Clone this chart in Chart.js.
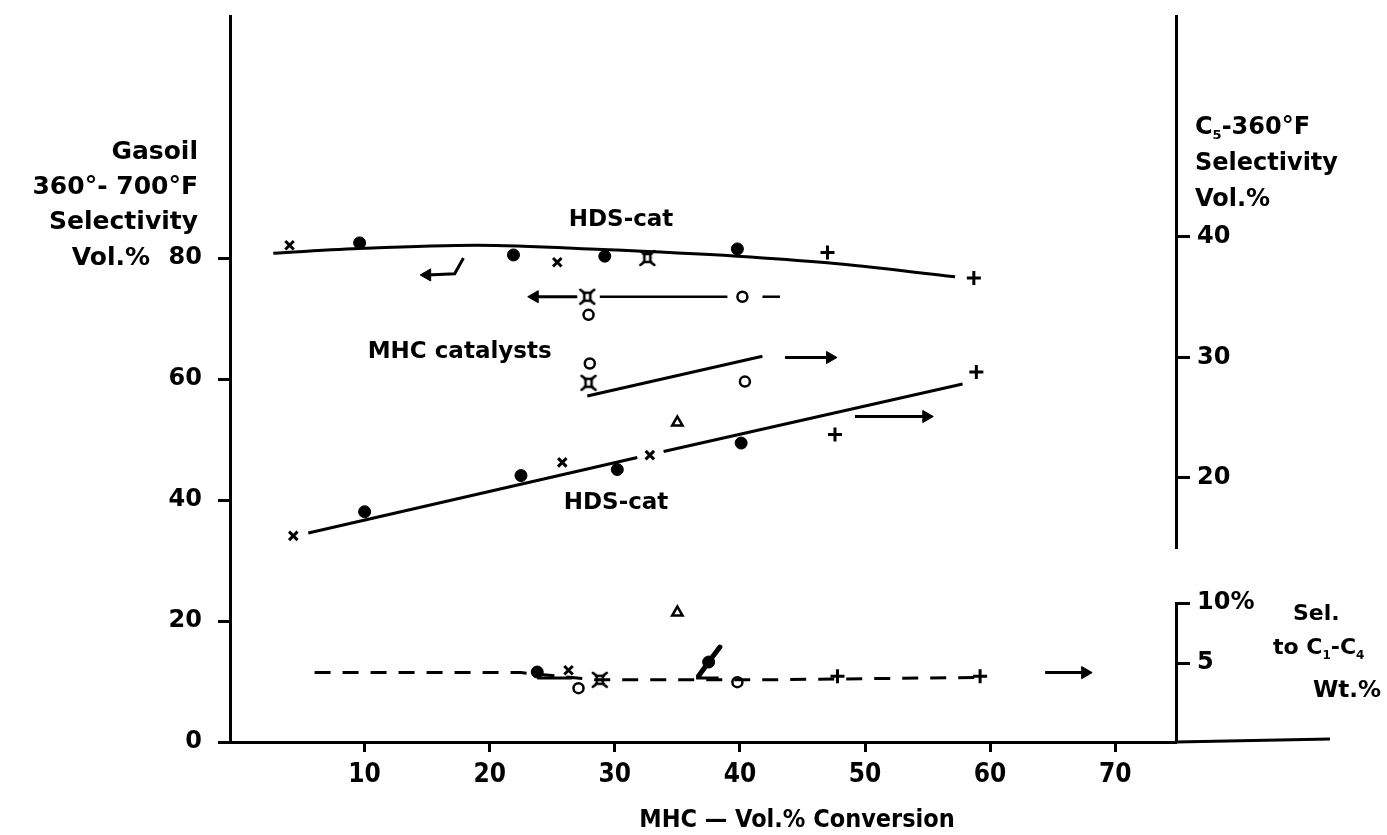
<!DOCTYPE html>
<html><head><meta charset="utf-8">
<script src="https://cdn.jsdelivr.net/npm/chart.js@4.4.1/dist/chart.umd.min.js"></script>
<style>html,body{margin:0;padding:0;background:#fff}#wrap{width:1387px;height:835px}</style>
</head><body><div id="wrap"><canvas id="c" width="1387" height="835"></canvas></div>
<script>
// ---------- tick labels ----------
const xTicks = [10, 20, 30, 40, 50, 60, 70];
const gasoilTicks = [0, 20, 40, 60, 80];
const c5Ticks = [20, 30, 40];
const c1c4Ticks = [5, 10];

// ---------- Gasoil 360-700F selectivity (left axis) ----------
const gasoilHdsCurve = [[2.7, 80.8], [10, 81.6], [19, 82.1], [29, 81.4], [39.8, 80.3], [47, 79.2], [57.2, 76.9]];
const gasoilCross = [[4.0, 82.1], [25.4, 79.3]];
const gasoilDot = [[9.6, 82.5], [21.9, 80.5], [29.2, 80.3], [39.8, 81.5]];
const gasoilStar = [[32.6, 80.0]];
const gasoilPlus = [[47.0, 80.9], [58.7, 76.7]];
const gasoilHookArrow = [[17.9, 80.0], [17.2, 77.4], [15.0, 77.2]];
const gasoilMhcStar = [[27.8, 73.6]];
const gasoilMhcOpen = [[27.9, 70.6], [40.2, 73.6]];
const gasoilMhcLine = [[28.8, 73.6], [39.0, 73.6]];
const gasoilMhcDash = [[41.8, 73.6], [43.2, 73.6]];
const gasoilMhcArrow = [[27.0, 73.6], [23.6, 73.6]];

// ---------- C5-360F selectivity (upper right axis) ----------
const c5MhcOpen = [[28.0, 29.5], [40.4, 28.0]];
const c5MhcStar = [[27.9, 27.9]];
const c5MhcLine = [[27.8, 26.8], [41.8, 30.1]];
const c5MhcArrow = [[43.6, 30.0], [47.2, 30.0]];
const c5HdsLineA = [[5.5, 15.44], [31.8, 21.7]];
const c5HdsLineB = [[33.9, 22.2], [57.8, 27.8]];
const c5Cross = [[4.3, 15.2], [25.8, 21.3], [32.8, 21.9]];
const c5Dot = [[10.0, 17.2], [22.5, 20.2], [30.2, 20.7], [40.1, 22.9]];
const c5Tri = [[35.0, 24.6]];
const c5Plus = [[47.6, 23.6], [58.9, 28.8]];
const c5Arrow = [[49.2, 25.1], [54.9, 25.1]];

// ---------- Sel. to C1-C4 wt.% (lower right axis) ----------
const lightDash = [[6.0, 4.2], [22.5, 4.2], [28.5, 3.6], [38.0, 3.6], [42.0, 3.6], [59.2, 3.8]];
const lightDot = [[23.8, 4.25], [37.5, 5.08]];
const lightDotTail = [[23.8, 3.75], [26.6, 3.75]];
const lightBlob = [[38.4, 6.33], [37.5, 5.08], [36.7, 3.92]];
const lightBlobBase = [[36.5, 3.75], [38.3, 3.75]];
const lightCross = [[26.3, 4.4]];
const lightOpen = [[27.1, 2.9], [39.8, 3.4]];
const lightStar = [[28.8, 3.6]];
const lightPlus = [[47.8, 3.9], [59.2, 3.9]];
const lightTri = [[35.0, 9.2]];
const lightArrow = [[64.4, 4.2], [67.6, 4.2]];

// ---------- styling helpers ----------
const INK = '#000';
const BOLD = '"DejaVu Sans", sans-serif';
const NARROW = '"Liberation Sans Narrow", "DejaVu Sans Condensed", sans-serif';

function starSymbol() {
  const c = document.createElement('canvas');
  c.width = 20; c.height = 20;
  const g = c.getContext('2d');
  g.strokeStyle = INK; g.lineWidth = 2.6; g.lineCap = 'round';
  g.beginPath();
  g.moveTo(6, 6); g.lineTo(14, 6); g.moveTo(6, 14); g.lineTo(14, 14);
  g.moveTo(7, 6); g.lineTo(7, 14); g.moveTo(13, 6); g.lineTo(13, 14);
  g.moveTo(3, 3); g.lineTo(7, 6); g.moveTo(17, 3); g.lineTo(13, 6);
  g.moveTo(3, 17); g.lineTo(7, 14); g.moveTo(17, 17); g.lineTo(13, 14);
  g.stroke();
  return c;
}
const STAR = starSymbol();

function markers(data, axis, kind) {
  const base = { data, yAxisID: axis, showLine: false, borderColor: INK, pointBorderColor: INK };
  if (kind === 'dot') return Object.assign(base, { pointStyle: 'circle', pointRadius: 6, pointBackgroundColor: INK, pointBorderWidth: 1 });
  if (kind === 'cross') return Object.assign(base, { pointStyle: 'crossRot', pointRadius: 6, pointBorderWidth: 3 });
  if (kind === 'plus') return Object.assign(base, { pointStyle: 'cross', pointRadius: 7, pointBorderWidth: 3 });
  if (kind === 'open') return Object.assign(base, { pointStyle: 'circle', pointRadius: 5, pointBackgroundColor: '#fff', pointBorderWidth: 2.5 });
  if (kind === 'tri') return Object.assign(base, { pointStyle: 'triangle', pointRadius: 6, pointBackgroundColor: '#fff', pointBorderWidth: 2.5 });
  if (kind === 'star') return Object.assign(base, { pointStyle: STAR, pointRadius: 10 });
}
function line(data, axis, opts) {
  return Object.assign({ data, yAxisID: axis, showLine: true, borderColor: INK, borderWidth: 3, pointRadius: 0, fill: false }, opts || {});
}
function arrow(data, axis, dir) {
  const n = data.length;
  const radii = data.map((_, i) => i === n - 1 ? 7 : 0);
  const rot = data.map(() => dir === 'left' ? -90 : 90);
  return { data, yAxisID: axis, showLine: true, borderColor: INK, borderWidth: 3,
    pointStyle: 'triangle', pointRadius: radii, pointRotation: rot,
    pointBackgroundColor: INK, pointBorderColor: INK, pointBorderWidth: 1 };
}

const datasets = [
  line(gasoilHdsCurve, 'y', { tension: 0.4, cubicInterpolationMode: 'monotone' }),
  markers(gasoilCross, 'y', 'cross'),
  markers(gasoilDot, 'y', 'dot'),
  markers(gasoilStar, 'y', 'star'),
  markers(gasoilPlus, 'y', 'plus'),
  arrow(gasoilHookArrow, 'y', 'left'),
  line(gasoilMhcLine, 'y', { borderWidth: 2.5 }),
  line(gasoilMhcDash, 'y', { borderWidth: 2.5 }),
  arrow(gasoilMhcArrow, 'y', 'left'),
  markers(gasoilMhcStar, 'y', 'star'),
  markers(gasoilMhcOpen, 'y', 'open'),

  line(c5MhcLine, 'yC5'),
  arrow(c5MhcArrow, 'yC5', 'right'),
  markers(c5MhcOpen, 'yC5', 'open'),
  markers(c5MhcStar, 'yC5', 'star'),
  line(c5HdsLineA, 'yC5'),
  line(c5HdsLineB, 'yC5'),
  markers(c5Cross, 'yC5', 'cross'),
  markers(c5Dot, 'yC5', 'dot'),
  markers(c5Tri, 'yC5', 'tri'),
  markers(c5Plus, 'yC5', 'plus'),
  arrow(c5Arrow, 'yC5', 'right'),

  line(lightDash, 'yC1', { borderDash: [16, 12], borderWidth: 3 }),
  line(lightDotTail, 'yC1', { borderWidth: 3 }),
  line(lightBlob, 'yC1', { borderWidth: 5, borderCapStyle: 'round' }),
  line(lightBlobBase, 'yC1', { borderWidth: 3 }),
  markers(lightDot, 'yC1', 'dot'),
  markers(lightCross, 'yC1', 'cross'),
  markers(lightOpen, 'yC1', 'open'),
  markers(lightStar, 'yC1', 'star'),
  markers(lightPlus, 'yC1', 'plus'),
  markers(lightTri, 'yC1', 'tri'),
  arrow(lightArrow, 'yC1', 'right')
];

function only(list) { return (scale) => { scale.ticks = list.map(v => ({ value: v })); }; }
function fixW(w) { return (scale) => { scale.width = w; scale.paddingTop = 0; scale.paddingBottom = 0; }; }
const tickFont = { family: BOLD, size: 24, weight: 'bold' };

const textPlugin = {
  id: 'texts',
  afterDraw(chart) {
    const ctx = chart.ctx;
    const xs = chart.scales.x, yl = chart.scales.y;
    ctx.save();
    ctx.fillStyle = INK; ctx.strokeStyle = INK;
    // x-axis line continues past the right-hand axes
    ctx.lineWidth = 3;
    ctx.beginPath();
    ctx.moveTo(chart.chartArea.right, chart.chartArea.bottom);
    ctx.lineTo(1330, chart.chartArea.bottom - 3);
    ctx.stroke();

    ctx.textBaseline = 'middle';
    ctx.font = 'bold 25px ' + BOLD;
    ctx.textAlign = 'right';
    ctx.fillText('Gasoil', 198, 152);
    ctx.fillText('360°- 700°F', 198, 187);
    ctx.fillText('Selectivity', 198, 222);
    ctx.fillText('Vol.%', 150, yl.getPixelForValue(80));

    // right upper title with subscript
    ctx.textAlign = 'left';
    ctx.font = 'bold 24px ' + BOLD;
    let x = 1195, yy = 128;
    ctx.fillText('C', x, yy); x += ctx.measureText('C').width;
    ctx.font = 'bold 13px ' + BOLD; ctx.fillText('5', x, yy + 8); x += ctx.measureText('5').width;
    ctx.font = 'bold 24px ' + BOLD; ctx.fillText('-360°F', x, yy);
    ctx.fillText('Selectivity', 1195, 164);
    ctx.fillText('Vol.%', 1195, 200);

    // right lower title
    ctx.font = 'bold 22px ' + BOLD;
    ctx.fillText('Sel.', 1293, 614);
    x = 1273; yy = 648;
    ctx.fillText('to C', x, yy); x += ctx.measureText('to C').width;
    ctx.font = 'bold 12px ' + BOLD; ctx.fillText('1', x, yy + 8); x += ctx.measureText('1').width;
    ctx.font = 'bold 22px ' + BOLD; ctx.fillText('-C', x, yy); x += ctx.measureText('-C').width;
    ctx.font = 'bold 12px ' + BOLD; ctx.fillText('4', x, yy + 8);
    ctx.font = 'bold 23px ' + BOLD;
    ctx.fillText('Wt.%', 1313, 691);

    // x title
    ctx.textAlign = 'center';
    ctx.font = 'bold 25px ' + NARROW;
    ctx.fillText('MHC \u2014 Vol.% Conversion', 797, 820);

    // in-plot labels
    ctx.font = 'bold 23px ' + BOLD;
    ctx.fillText('HDS-cat', xs.getPixelForValue(30.5), yl.getPixelForValue(86.2));
    ctx.fillText('MHC catalysts', xs.getPixelForValue(17.6), yl.getPixelForValue(64.5));
    ctx.fillText('HDS-cat', xs.getPixelForValue(30.1), yl.getPixelForValue(39.5));
    ctx.restore();
  }
};

new Chart(document.getElementById('c'), {
  type: 'scatter',
  data: { datasets },
  plugins: [textPlugin],
  options: {
    responsive: false, animation: false, devicePixelRatio: 1,
    layout: { padding: { top: 16, right: 111, bottom: 0, left: 0 } },
    plugins: { legend: { display: false }, tooltip: { enabled: false } },
    elements: { line: { borderCapStyle: 'butt' } },
    scales: {
      x: {
        type: 'linear', position: 'bottom', min: -0.76, max: 74.86,
        afterBuildTicks: only(xTicks), afterFit: (s) => { s.height = 93; s.paddingLeft = 0; s.paddingRight = 0; },
        grid: { drawOnChartArea: false, drawTicks: true, tickLength: 10, tickWidth: 3, color: INK },
        border: { display: true, color: INK, width: 3 },
        ticks: { color: INK, font: { family: NARROW, size: 26, weight: 'bold' }, padding: 8, maxRotation: 0 }
      },
      y: {
        type: 'linear', position: 'left', min: 0, max: 120,
        afterBuildTicks: only(gasoilTicks), afterFit: fixW(230),
        grid: { drawOnChartArea: false, drawTicks: true, tickLength: 12, tickWidth: 3, color: INK },
        border: { display: true, color: INK, width: 3 },
        ticks: { color: INK, font: tickFont, padding: 16 }
      },
      yC5: {
        type: 'linear', position: 'right', stack: 'right', stackWeight: 532, min: 14.19, max: 58.34,
        afterBuildTicks: only(c5Ticks), afterFit: fixW(100),
        grid: { drawOnChartArea: false, drawTicks: true, tickLength: 14, tickWidth: 3, color: INK },
        border: { display: true, color: INK, width: 3 },
        ticks: { color: INK, font: tickFont, padding: 7 }
      },
      yGap: {
        type: 'linear', position: 'right', stack: 'right', stackWeight: 55, min: 0, max: 1,
        afterFit: fixW(100),
        grid: { display: false }, border: { display: false }, ticks: { display: false }
      },
      yC1: {
        type: 'linear', position: 'right', stack: 'right', stackWeight: 139, min: -1.583, max: 10,
        afterBuildTicks: only(c1c4Ticks), afterFit: fixW(100),
        grid: { drawOnChartArea: false, drawTicks: true, tickLength: 14, tickWidth: 3, color: INK },
        border: { display: true, color: INK, width: 3 },
        ticks: { color: INK, font: tickFont, padding: 7, callback: (v) => v === 10 ? '10%' : String(v) }
      }
    }
  }
});
</script>
</body></html>
